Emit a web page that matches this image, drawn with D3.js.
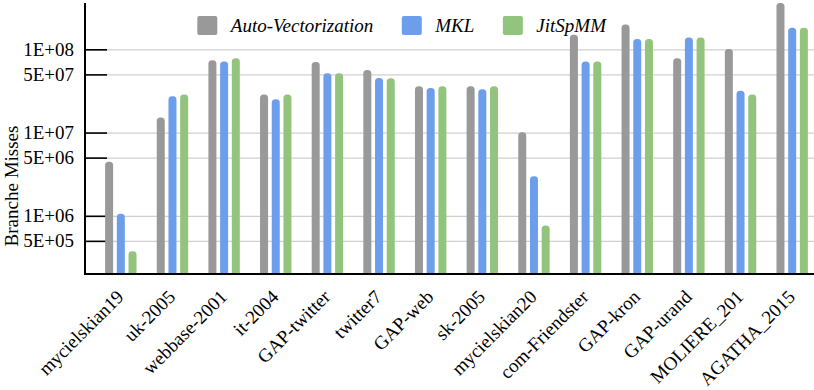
<!DOCTYPE html>
<html>
<head>
<meta charset="utf-8">
<script src="https://cdn.jsdelivr.net/npm/d3@7"></script>
<style>
  body { margin: 0; background: #fff; }
  svg text { font-family: "Liberation Serif", "Times New Roman", serif; fill: #000; }
</style>
</head>
<body>
<div id="chart"></div>
<script>
// data
var categories = ["mycielskian19", "uk-2005", "webbase-2001", "it-2004", "GAP-twitter", "twitter7",
    "GAP-web", "sk-2005", "mycielskian20", "com-Friendster", "GAP-kron", "GAP-urand",
    "MOLIERE_201", "AGATHA_2015"];
var seriesNames = ["Auto-Vectorization", "MKL", "JitSpMM"];
var autoVec = [4.47e6, 1.52e7, 7.38e7, 2.87e7, 7.05e7, 5.65e7, 3.6e7, 3.6e7, 1.01e7, 1.5e8, 1.99e8, 7.8e7, 1.01e8, 3.59e8];
var mkl     = [1.06e6, 2.73e7, 7.13e7, 2.52e7, 5.16e7, 4.53e7, 3.44e7, 3.32e7, 2.99e6, 7.13e7, 1.33e8, 1.39e8, 3.17e7, 1.82e8];
var jitSpMM = [3.74e5, 2.87e7, 7.8e7, 2.87e7, 5.16e7, 4.5e7, 3.6e7, 3.6e7, 7.66e5, 7.13e7, 1.33e8, 1.39e8, 2.87e7, 1.82e8];
var tickValues = [5e5, 1e6, 5e6, 1e7, 5e7, 1e8];
var tickLabels = ["5E+05", "1E+06", "5E+06", "1E+07", "5E+07", "1E+08"];
var colors = ["#999999", "#6d9eeb", "#93c47d"];

var svgWidth = 814;
var svgHeight = 390;
var plotLeft = 85, plotTop = 3, plotBottom = 274, plotRight = 814;

var svg = d3.select("#chart")
    .append("svg")
    .attr("width", svgWidth)
    .attr("height", svgHeight);

var rows = categories.map(function (c, i) {
    return { cat: c, values: [autoVec[i], mkl[i], jitSpMM[i]] };
});

var x0 = d3.scaleBand()
    .domain(categories)
    .range([95, 818]);

var x1 = d3.scaleBand()
    .domain(seriesNames)
    .range([-15.7, 15.7])
    .paddingInner(0.316);

var y = d3.scaleLog()
    .domain([2e5, 3.6e8])
    .range([plotBottom, plotTop]);

// gridlines
svg.append("g")
    .attr("transform", `translate(${plotLeft}, 0)`)
    .call(d3.axisLeft(y).tickValues(tickValues).tickSize(-(plotRight - plotLeft)).tickFormat(""))
    .call(g => g.select(".domain").remove())
    .call(g => g.selectAll("line").attr("stroke", "#d0d0d0").attr("stroke-width", 1.2));

// y axis with short inner ticks
var leftAxis = d3.axisLeft(y)
    .tickValues(tickValues)
    .tickSize(-22)
    .tickPadding(11)
    .tickFormat(function (d, i) { return tickLabels[i]; });

svg.append("g")
    .attr("transform", `translate(${plotLeft}, 0)`)
    .call(leftAxis)
    .call(g => g.select(".domain").remove())
    .call(g => g.selectAll("line").attr("stroke", "#000").attr("stroke-width", 1.6))
    .call(g => g.selectAll("text").attr("font-size", "19px")
        .style("font-family", "'Liberation Serif', 'Times New Roman', serif").attr("fill", "#000"));

// bars with rounded tops
function barPath(x, top, w, bottom) {
    var r = Math.min(3.5, (bottom - top));
    return `M${x},${bottom} L${x},${top + r} Q${x},${top} ${x + r},${top} L${x + w - r},${top} Q${x + w},${top} ${x + w},${top + r} L${x + w},${bottom} Z`;
}

var groups = svg.selectAll(".group")
    .data(rows)
    .enter()
    .append("g")
    .attr("class", "group")
    .attr("transform", d => `translate(${x0(d.cat) + x0.bandwidth() / 2}, 0)`);

groups.selectAll("path")
    .data(d => d.values.map((v, i) => ({ name: seriesNames[i], value: v, i: i })))
    .enter()
    .append("path")
    .attr("d", d => barPath(x1(d.name), y(d.value), x1.bandwidth(), plotBottom))
    .attr("fill", d => colors[d.i]);

// axis lines
svg.append("line")
    .attr("x1", plotLeft).attr("x2", plotLeft)
    .attr("y1", plotTop).attr("y2", plotBottom + 1)
    .attr("stroke", "#000").attr("stroke-width", 2);
svg.append("line")
    .attr("x1", plotLeft - 1).attr("x2", plotRight)
    .attr("y1", plotBottom).attr("y2", plotBottom)
    .attr("stroke", "#000").attr("stroke-width", 2.2);

// category labels
svg.selectAll(".xlabel")
    .data(categories)
    .enter()
    .append("text")
    .attr("class", "xlabel")
    .attr("transform", d => `translate(${x0(d) + x0.bandwidth() / 2 + 4}, 298) rotate(-45)`)
    .attr("text-anchor", "end")
    .attr("font-size", "19px")
    .text(d => d);

// y axis title
svg.append("text")
    .attr("transform", "translate(18, 186) rotate(-90)")
    .attr("text-anchor", "middle")
    .attr("font-size", "19px")
    .text("Branche Misses");

// legend
var legend = svg.append("g");
var lx = 197.3;
seriesNames.forEach(function (name, i) {
    legend.append("rect")
        .attr("x", lx).attr("y", 16)
        .attr("width", 20).attr("height", 19)
        .attr("rx", 2)
        .attr("fill", colors[i]);
    var t = legend.append("text")
        .attr("x", lx + 33.5).attr("y", 32)
        .attr("font-size", "19px")
        .attr("font-style", "italic")
        .text(name);
    lx = lx + 33.5 + t.node().getComputedTextLength() + 28.5;
});
</script>
</body>
</html>
